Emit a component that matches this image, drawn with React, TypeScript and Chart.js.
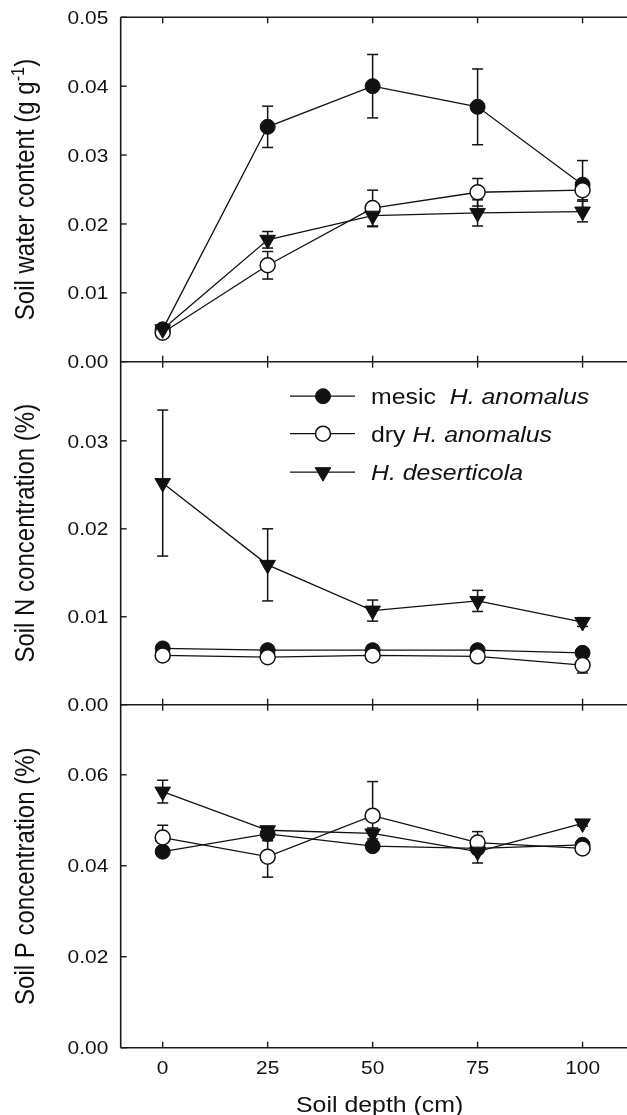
import React, { useEffect, useRef } from 'react';
import { Chart, registerables } from 'chart.js';

Chart.register(...registerables);

// ---------------- data ----------------
const depths = [0, 25, 50, 75, 100];
const xTickValues = [0, 25, 50, 75, 100];
const waterTicks = [0, 0.01, 0.02, 0.03, 0.04, 0.05];
const nTicks = [0, 0.01, 0.02, 0.03];
const pTicks = [0, 0.02, 0.04, 0.06];

const seriesLabels = ['mesic H. anomalus', 'dry H. anomalus', 'H. deserticola'];

const waterMesic = [0.0047, 0.0341, 0.04, 0.037, 0.0257];
const waterMesicSE = [0.0003, 0.003, 0.0046, 0.0055, 0.0035];
const waterDry = [0.0042, 0.014, 0.0223, 0.0246, 0.0249];
const waterDrySE = [0.0003, 0.002, 0.0026, 0.002, 0.0014];
const waterDes = [0.0047, 0.0177, 0.0212, 0.0216, 0.0218];
const waterDesSE = [0.0003, 0.0012, 0.0016, 0.0019, 0.0015];

const nMesic = [0.0064, 0.0062, 0.0062, 0.0062, 0.0059];
const nMesicSE = [0.0002, 0.0002, 0.0002, 0.0002, 0.0002];
const nDry = [0.0056, 0.0054, 0.0056, 0.0055, 0.0045];
const nDrySE = [0.0002, 0.0002, 0.0002, 0.0002, 0.0009];
const nDes = [0.0252, 0.0159, 0.0107, 0.0118, 0.0094];
const nDesSE = [0.0083, 0.0041, 0.0012, 0.0012, 0.0005];

const pMesic = [0.0431, 0.047, 0.0443, 0.0438, 0.0446];
const pMesicSE = [0.0005, 0.0015, 0.001, 0.0008, 0.0005];
const pDry = [0.0462, 0.042, 0.051, 0.0451, 0.0438];
const pDrySE = [0.0027, 0.0045, 0.0075, 0.0024, 0.0005];
const pDes = [0.0563, 0.0478, 0.0471, 0.0431, 0.0493];
const pDesSE = [0.0025, 0.0008, 0.0012, 0.0025, 0.0006];

// ---------------- styling ----------------
const FONT = '"Liberation Sans", Arial, Helvetica, sans-serif';
const SX = 1.13; // horizontal text stretch of the original figure
const INK = '#111';
const TICK_FS = 18.5;
const TITLE_FS = 24;
const XTITLE_FS = 22;
const LEGEND_FS = 22;

const panels = [
  { id: 'yW', series: [waterMesic, waterDry, waterDes], se: [waterMesicSE, waterDrySE, waterDesSE] },
  { id: 'yN', series: [nMesic, nDry, nDes], se: [nMesicSE, nDrySE, nDesSE] },
  { id: 'yP', series: [pMesic, pDry, pDes], se: [pMesicSE, pDrySE, pDesSE] },
];

const seriesStyle = [
  { style: 'circle', fill: INK, radius: 7.5, bw: 1, rot: 0, order: 2 },
  { style: 'circle', fill: '#ffffff', radius: 7.5, bw: 1.5, rot: 0, order: 1 },
  { style: 'triangle', fill: INK, radius: 9, bw: 1, rot: 180, order: 0 },
];

function stretchedText(ctx: CanvasRenderingContext2D, text: string, x: number, y: number, font: string, align: CanvasTextAlign) {
  ctx.save();
  ctx.translate(x, y);
  ctx.scale(SX, 1);
  ctx.font = font;
  ctx.textAlign = align;
  ctx.textBaseline = 'alphabetic';
  ctx.fillStyle = INK;
  ctx.fillText(text, 0, 0);
  ctx.restore();
}

type Run = { t: string; it?: boolean; sup?: boolean };

function runsWidth(ctx: CanvasRenderingContext2D, runs: Run[], size: number) {
  let w = 0;
  for (const r of runs) {
    const s = r.sup ? size * 0.68 : size;
    ctx.font = `${r.it ? 'italic ' : ''}${s}px ${FONT}`;
    w += ctx.measureText(r.t).width;
  }
  return w;
}

function drawRuns(ctx: CanvasRenderingContext2D, runs: Run[], size: number) {
  // draws in current transform from (0,0) baseline
  let cx = 0;
  ctx.textAlign = 'left';
  ctx.textBaseline = 'alphabetic';
  ctx.fillStyle = INK;
  for (const r of runs) {
    const s = r.sup ? size * 0.68 : size;
    ctx.font = `${r.it ? 'italic ' : ''}${s}px ${FONT}`;
    ctx.fillText(r.t, cx, r.sup ? -size * 0.38 : 0);
    cx += ctx.measureText(r.t).width;
  }
}

function drawMarker(ctx: CanvasRenderingContext2D, idx: number, x: number, y: number) {
  const st = seriesStyle[idx];
  ctx.save();
  ctx.beginPath();
  if (st.style === 'circle') {
    ctx.arc(x, y, st.radius, 0, Math.PI * 2);
  } else {
    const r = st.radius;
    const rad = Math.PI; // pointing down
    let a = rad;
    ctx.moveTo(x + Math.sin(a) * r, y - Math.cos(a) * r);
    a += (2 * Math.PI) / 3;
    ctx.lineTo(x + Math.sin(a) * r, y - Math.cos(a) * r);
    a += (2 * Math.PI) / 3;
    ctx.lineTo(x + Math.sin(a) * r, y - Math.cos(a) * r);
    ctx.closePath();
  }
  ctx.fillStyle = st.fill;
  ctx.fill();
  ctx.lineWidth = st.bw;
  ctx.strokeStyle = INK;
  ctx.stroke();
  ctx.restore();
}

const yTitles: Run[][] = [
  [{ t: 'Soil water content (g g' }, { t: '-1', sup: true }, { t: ')' }],
  [{ t: 'Soil N concentration (%)' }],
  [{ t: 'Soil P concentration (%)' }],
];

const legendRows: Run[][] = [
  [{ t: 'mesic  ' }, { t: 'H. anomalus', it: true }],
  [{ t: 'dry ' }, { t: 'H. anomalus', it: true }],
  [{ t: 'H. deserticola', it: true }],
];

const framePlugin = {
  id: 'frame',
  beforeDatasetsDraw(chart: any) {
    const ctx: CanvasRenderingContext2D = chart.ctx;
    const xs = chart.scales.x;
    const L = chart.chartArea.left;
    const R = chart.width;
    const yW = chart.scales.yW, yN = chart.scales.yN, yP = chart.scales.yP;
    const ln = (x1: number, y1: number, x2: number, y2: number) => {
      ctx.beginPath();
      ctx.moveTo(x1, y1);
      ctx.lineTo(x2, y2);
      ctx.stroke();
    };
    ctx.save();
    ctx.strokeStyle = '#1a1a1a';
    ctx.lineWidth = 1.6;
    ln(L, yW.top, L, yP.bottom);
    for (const y of [yW.top, yW.bottom, yN.bottom, yP.bottom]) ln(L, y, R, y);
    ctx.lineWidth = 1.4;
    for (const v of xTickValues) {
      const px = xs.getPixelForValue(v);
      ln(px, yW.top, px, yW.top + 6);
      ln(px, yW.bottom - 6, px, yW.bottom + 6);
      ln(px, yN.bottom - 6, px, yN.bottom + 6);
      ln(px, yP.bottom - 6, px, yP.bottom);
    }
    for (const s of [yW, yN, yP]) {
      for (const t of s.ticks) {
        const py = s.getPixelForValue(t.value);
        ln(L, py, L + 6, py);
      }
    }
    // error bars
    ctx.lineWidth = 1.5;
    ctx.strokeStyle = INK;
    chart.data.datasets.forEach((ds: any) => {
      const ys = chart.scales[ds.yAxisID];
      ds.data.forEach((pt: any, j: number) => {
        const e = ds.se[j];
        const px = xs.getPixelForValue(pt.x);
        const t = ys.getPixelForValue(pt.y + e);
        const b = ys.getPixelForValue(pt.y - e);
        ln(px, t, px, b);
        ln(px - 5.5, t, px + 5.5, t);
        ln(px - 5.5, b, px + 5.5, b);
      });
    });
    ctx.restore();
  },
  afterDraw(chart: any) {
    const ctx: CanvasRenderingContext2D = chart.ctx;
    const xs = chart.scales.x;
    const L = chart.chartArea.left;
    const scales = [chart.scales.yW, chart.scales.yN, chart.scales.yP];
    const tickFont = `${TICK_FS}px ${FONT}`;
    // y tick labels
    for (const s of scales) {
      for (const t of s.ticks) {
        const py = s.getPixelForValue(t.value);
        stretchedText(ctx, t.value.toFixed(2), L - 12.4, py + 0.36 * TICK_FS, tickFont, 'right');
      }
    }
    // x tick labels
    for (const t of xs.ticks) {
      const px = xs.getPixelForValue(t.value);
      stretchedText(ctx, String(t.value), px, xs.top + 25.8, tickFont, 'center');
    }
    // x title
    stretchedText(ctx, 'Soil depth (cm)', xs.getPixelForValue(50) + 7, xs.top + 64, `${XTITLE_FS}px ${FONT}`, 'center');
    // y titles
    scales.forEach((s: any, i: number) => {
      const runs = yTitles[i];
      const w = runsWidth(ctx, runs, TITLE_FS);
      ctx.save();
      ctx.translate(34, (s.top + s.bottom) / 2);
      ctx.scale(SX, 1);
      ctx.rotate(-Math.PI / 2);
      ctx.translate(-w / 2, 0);
      drawRuns(ctx, runs, TITLE_FS);
      ctx.restore();
    });
    // legend
    const yN = chart.scales.yN;
    const rowsY = [yN.top + 34.5, yN.top + 72, yN.top + 110.5];
    rowsY.forEach((ry, i) => {
      ctx.save();
      ctx.strokeStyle = INK;
      ctx.lineWidth = 1.3;
      ctx.beginPath();
      ctx.moveTo(290, ry);
      ctx.lineTo(355, ry);
      ctx.stroke();
      ctx.restore();
      drawMarker(ctx, i, 323, ry);
      ctx.save();
      ctx.translate(371, ry + 0.36 * LEGEND_FS);
      ctx.scale(SX, 1);
      drawRuns(ctx, legendRows[i], LEGEND_FS);
      ctx.restore();
    });
  },
};

function buildDatasets() {
  const out: any[] = [];
  panels.forEach((p) => {
    p.series.forEach((vals, si) => {
      const st = seriesStyle[si];
      out.push({
        label: seriesLabels[si],
        data: depths.map((d, i) => ({ x: d, y: vals[i] })),
        se: p.se[si],
        xAxisID: 'x',
        yAxisID: p.id,
        showLine: true,
        borderColor: INK,
        borderWidth: 1.3,
        backgroundColor: st.fill,
        pointStyle: st.style,
        pointRadius: st.radius,
        pointRotation: st.rot,
        pointBackgroundColor: st.fill,
        pointBorderColor: INK,
        pointBorderWidth: st.bw,
        tension: 0,
        fill: false,
        clip: false,
        order: st.order,
      });
    });
  });
  return out;
}

function yScale(id: string, max: number, ticks: number[], weight: number) {
  return {
    type: 'linear',
    position: 'left',
    stack: 'panels',
    stackWeight: weight,
    min: 0,
    max,
    afterBuildTicks: (s: any) => {
      s.ticks = ticks.map((v) => ({ value: v }));
    },
    afterFit: (s: any) => {
      s.width = 120.7;
    },
    ticks: { display: false },
    grid: { display: false, drawTicks: false },
    border: { display: false },
  };
}

export default function App() {
  const ref = useRef<HTMLCanvasElement>(null);
  useEffect(() => {
    const chart = new Chart(ref.current as HTMLCanvasElement, {
      type: 'line',
      data: { datasets: buildDatasets() },
      options: {
        animation: false,
        responsive: true,
        maintainAspectRatio: false,
        events: [],
        layout: { padding: { top: 17.3, left: 0, right: 0, bottom: 0 } },
        plugins: { legend: { display: false }, tooltip: { enabled: false } },
        scales: {
          x: {
            type: 'linear',
            position: 'bottom',
            min: -10,
            max: 108.2,
            afterBuildTicks: (s: any) => {
              s.ticks = xTickValues.map((v) => ({ value: v }));
            },
            afterFit: (s: any) => {
              s.height = 67.3;
            },
            ticks: { display: false },
            grid: { display: false, drawTicks: false },
            border: { display: false },
          },
          yP: yScale('yP', 0.0754, pTicks, 343),
          yN: yScale('yN', 0.039, nTicks, 343),
          yW: yScale('yW', 0.05, waterTicks, 344.4),
        } as any,
      },
      plugins: [framePlugin],
    } as any);
    return () => chart.destroy();
  }, []);
  return (
    <div style={{ position: 'absolute', left: 0, top: 0, width: 627, height: 1115 }}>
      <canvas ref={ref} />
    </div>
  );
}
